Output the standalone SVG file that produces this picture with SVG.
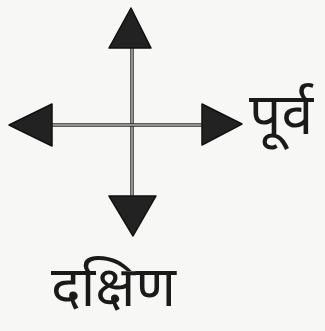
<svg xmlns="http://www.w3.org/2000/svg" width="325" height="331" viewBox="0 0 325 331">
<style>
.ax{stroke:#2a2a2a;stroke-width:3.5;fill:none}
.axi{stroke:#f6f6f4;stroke-width:1;fill:none}
.hd{fill:#222;stroke:#111;stroke-width:1.5;stroke-linejoin:round}
.lbl{font-family:"Noto Sans Devanagari","Noto Sans","Lohit Devanagari",sans-serif;fill:#1a1a1a}
</style>
<rect width="325" height="331" fill="#f7f7f5"/>
<g id="connectors">
<line class="ax" x1="132" y1="46" x2="132" y2="197"/>
<line class="axi" x1="132" y1="46" x2="132" y2="197"/>
<line class="ax" x1="50" y1="125" x2="204" y2="125"/>
<line class="axi" x1="50" y1="125" x2="204" y2="125"/>
</g>
<g id="north"><polygon class="hd" points="131,8 109,48 151,48"/></g>
<g id="west"><polygon class="hd" points="9,125 52,104 52,146"/></g>
<g id="east"><polygon class="hd" points="242,124 202,104 202,145"/></g>
<g id="south"><polygon class="hd" points="133,236 109,196 156,196"/></g>
<g id="label-east"><text class="lbl" x="249" y="134" font-size="57">पूर्व</text></g>
<g id="label-south"><text class="lbl" x="51" y="306" font-size="56">दक्षिण</text></g>
</svg>
